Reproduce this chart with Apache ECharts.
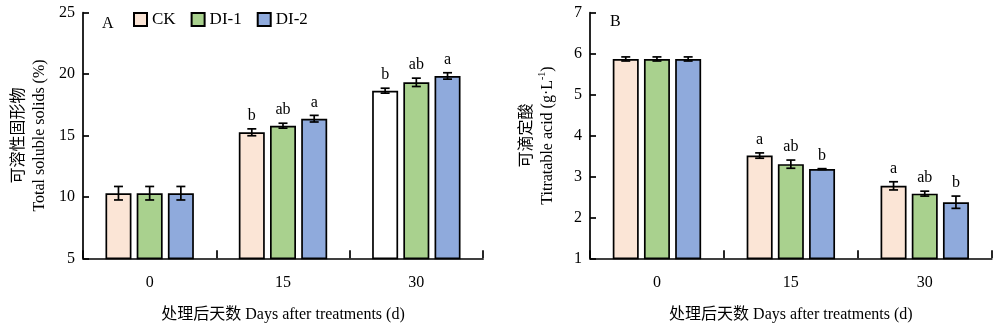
<!DOCTYPE html>
<html>
<head>
<meta charset="utf-8">
<script src="https://cdn.jsdelivr.net/npm/echarts@6/dist/echarts.min.js"></script>
<style>html,body{margin:0;padding:0;background:#fff}#c{width:1000px;height:336px}</style>
</head>
<body>
<div id="c"></div>
<script>
// ---- data ----
const days = ['0', '15', '30'];
const seriesNames = ['CK', 'DI-1', 'DI-2'];

// Panel A: total soluble solids (%)
const tssCK = [10.3, 15.26, 18.65];
const tssCKErr = [0.55, 0.28, 0.2];
const tssDI1 = [10.3, 15.8, 19.33];
const tssDI1Err = [0.55, 0.2, 0.34];
const tssDI2 = [10.3, 16.37, 19.85];
const tssDI2Err = [0.55, 0.27, 0.26];
const tssLetCK = ['', 'b', 'b'];
const tssLetDI1 = ['', 'ab', 'ab'];
const tssLetDI2 = ['', 'a', 'a'];

// Panel B: titratable acid (g/L)
const taCK = [5.87, 3.51, 2.77];
const taCKErr = [0.05, 0.065, 0.1];
const taDI1 = [5.87, 3.30, 2.58];
const taDI1Err = [0.05, 0.1, 0.06];
const taDI2 = [5.87, 3.18, 2.37];
const taDI2Err = [0.05, 0.01, 0.15];
const taLetCK = ['', 'a', 'a'];
const taLetDI1 = ['', 'ab', 'ab'];
const taLetDI2 = ['', 'b', 'b'];

// ---- styling ----
const FONT = '"Liberation Serif", "Noto Sans CJK SC", serif';
const colors = ['#FBE5D6', '#A9D18E', '#8FAADC'];
const BAR_W = 26;
const BAR_GAP = 0.2;

function errSeries(idx, gi, vals, errs, lets) {
  return {
    type: 'custom',
    xAxisIndex: gi, yAxisIndex: gi,
    z: 10,
    silent: true,
    data: vals.map((v, i) => [i, v, errs[i]]),
    renderItem: function (params, api) {
      const ci = api.value(0), v = api.value(1), e = api.value(2);
      const off = (idx - 1) * BAR_W * (1 + BAR_GAP);
      const pHi = api.coord([ci, v + e]);
      const pLo = api.coord([ci, v - e]);
      const x = pHi[0] + off;
      const cap = 4.5;
      const st = {stroke: '#000', lineWidth: 1.7};
      const children = [
        {type: 'line', shape: {x1: x, y1: pHi[1], x2: x, y2: pLo[1]}, style: st},
        {type: 'line', shape: {x1: x - cap, y1: pHi[1], x2: x + cap, y2: pHi[1]}, style: st},
        {type: 'line', shape: {x1: x - cap, y1: pLo[1], x2: x + cap, y2: pLo[1]}, style: st}
      ];
      const txt = lets[params.dataIndex];
      if (txt) {
        children.push({type: 'text', style: {text: txt, x: x, y: pHi[1] - 5, align: 'center', verticalAlign: 'bottom', font: '16px ' + FONT, fill: '#000'}});
      }
      return {type: 'group', children: children};
    }
  };
}

function barSeries(idx, gi, vals, whiteIdx) {
  return {
    type: 'bar',
    name: seriesNames[idx],
    xAxisIndex: gi, yAxisIndex: gi,
    barWidth: BAR_W,
    barGap: (BAR_GAP * 100) + '%',
    itemStyle: {color: colors[idx], borderColor: '#000', borderWidth: 1.7},
    data: vals.map((v, i) => i === whiteIdx ? {value: v, itemStyle: {color: '#ffffff'}} : v)
  };
}

const axisLine = {show: true, lineStyle: {color: '#000', width: 1.7}};
function xAxis(gi) {
  return {
    type: 'category', gridIndex: gi, data: days,
    axisLine: axisLine,
    axisTick: {show: true, inside: true, length: 8, lineStyle: {color: '#000', width: 1.7}},
    axisLabel: {color: '#000', fontFamily: FONT, fontSize: 16, margin: 16},
    name: '处理后天数 Days after treatments (d)',
    nameLocation: 'middle', nameGap: 48,
    nameTextStyle: {color: '#000', fontFamily: FONT, fontSize: 16}
  };
}
function yAxis(gi, min, max, interval, name, gap, rich) {
  const o = {
    type: 'value', gridIndex: gi, min: min, max: max, interval: interval,
    axisLine: axisLine,
    axisTick: {show: true, inside: true, length: 6, lineStyle: {color: '#000', width: 1.7}},
    axisLabel: {color: '#000', fontFamily: FONT, fontSize: 16, margin: 8},
    splitLine: {show: false},
    name: name, nameLocation: 'middle', nameGap: gap, nameRotate: 90,
    nameTextStyle: {color: '#000', fontFamily: FONT, fontSize: 16, lineHeight: 21, align: 'center'}
  };
  if (rich) o.nameTextStyle.rich = rich;
  return o;
}

const chart = echarts.init(document.getElementById('c'), null, {renderer: 'canvas'});
chart.setOption({
  animation: false,
  backgroundColor: '#fff',
  legend: {
    data: seriesNames,
    left: 133, top: 11, padding: 0,
    icon: 'rect', itemWidth: 13, itemHeight: 13, itemGap: 15,
    textStyle: {color: '#000', fontFamily: FONT, fontSize: 17}
  },
  graphic: [
    {type: 'text', left: 102, top: 16, style: {text: 'A', font: '16px ' + FONT, fill: '#000'}},
    {type: 'text', left: 610, top: 14, style: {text: 'B', font: '16px ' + FONT, fill: '#000'}}
  ],
  grid: [
    {left: 83, right: 517, top: 12.7, bottom: 77.7},
    {left: 590, right: 8.3, top: 12.7, bottom: 77.7}
  ],
  xAxis: [xAxis(0), xAxis(1)],
  yAxis: [
    yAxis(0, 5, 25, 5, '可溶性固形物\nTotal soluble solids (%)', 33),
    yAxis(1, 1, 7, 1, '{a|可滴定酸}\n{a|Titratable acid (g·L}{sup|-1}{a|)}', 32, {
      a: {fontFamily: FONT, fontSize: 16, color: '#000', lineHeight: 21},
      sup: {fontFamily: FONT, fontSize: 10, color: '#000', verticalAlign: 'top', lineHeight: 21, padding: [0, 0, 8, 0]}
    })
  ],
  series: [
    barSeries(0, 0, tssCK, 2), barSeries(1, 0, tssDI1, -1), barSeries(2, 0, tssDI2, -1),
    barSeries(0, 1, taCK, -1), barSeries(1, 1, taDI1, -1), barSeries(2, 1, taDI2, -1),
    errSeries(0, 0, tssCK, tssCKErr, tssLetCK), errSeries(1, 0, tssDI1, tssDI1Err, tssLetDI1), errSeries(2, 0, tssDI2, tssDI2Err, tssLetDI2),
    errSeries(0, 1, taCK, taCKErr, taLetCK), errSeries(1, 1, taDI1, taDI1Err, taLetDI1), errSeries(2, 1, taDI2, taDI2Err, taLetDI2)
  ]
});
</script>
</body>
</html>
